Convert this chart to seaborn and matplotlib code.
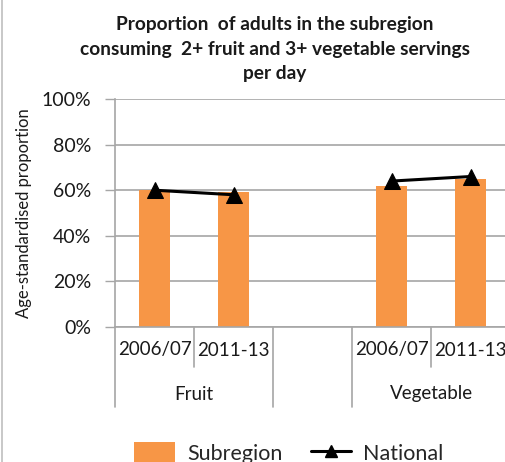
import matplotlib
matplotlib.use("Agg")
import matplotlib.pyplot as plt
import matplotlib.transforms as mtransforms
from matplotlib.lines import Line2D
from matplotlib.patches import Patch
import numpy as np
import pandas as pd
import seaborn as sns

# Data
groups = ["Fruit", "Fruit", "", "Vegetable", "Vegetable"]
periods = ["2006/07", "2011-13", "", "2006/07", "2011-13"]
subregion = [60, 59, np.nan, 62, 65]
national = [60, 58, np.nan, 64, 66]

slots = [f"{g}|{p}" if g else "blank" for g, p in zip(groups, periods)]
df = pd.DataFrame({
    "slot": slots,
    "pos": np.arange(len(slots)),
    "group": groups,
    "period": periods,
    "Subregion": subregion,
    "National": national,
})

sns.set_theme(style="white")
plt.rcParams["font.family"] = ["Lato", "DejaVu Sans"]

ORANGE = "#F79646"
GRID = "#A6A6A6"
TXT = "#1a1a1a"

fig = plt.figure(figsize=(5.06, 4.62), dpi=100)
ax = fig.add_axes([115 / 506, 1 - 327 / 462, 395 / 506, 228 / 462])

sns.barplot(data=df, x="slot", y="Subregion", order=slots, color=ORANGE,
            width=0.39, saturation=1, ax=ax, edgecolor="none")

line_df = df.dropna(subset=["National"])
sns.lineplot(data=line_df, x="pos", y="National", units="group", estimator=None,
             color="black", linewidth=2.2, marker="^", markersize=12,
             markeredgecolor="black", ax=ax, legend=False, zorder=5)

ax.set_xlim(-0.5, len(slots) - 0.5)
ax.set_ylim(0, 100)
ax.set_yticks(np.arange(0, 101, 20))
ax.set_yticklabels([f"{v}%" for v in range(0, 101, 20)], fontsize=14, color=TXT)
ax.yaxis.grid(True, color=GRID, linewidth=1.2)
ax.set_axisbelow(True)
ax.tick_params(axis="y", length=7, width=1, color=GRID, pad=10, left=True)
ax.tick_params(axis="x", length=0, labelbottom=False)
ax.set_xlabel("")
ax.set_ylabel("Age-standardised proportion", fontsize=12, color=TXT, labelpad=7)

for s in ["top", "right"]:
    ax.spines[s].set_visible(False)
for s in ["left", "bottom"]:
    ax.spines[s].set_color(GRID)
    ax.spines[s].set_linewidth(1.2)

# Two-level category axis: period labels, group labels and divider lines
trans = mtransforms.blended_transform_factory(ax.transData, ax.transAxes)
px = 1 / 228
for i, p in enumerate(periods):
    if p:
        ax.text(i, -23 * px, p, transform=trans, ha="center", va="center",
                fontsize=13.5, color=TXT)
for g in ["Fruit", "Vegetable"]:
    idx = [i for i, gg in enumerate(groups) if gg == g]
    ax.text(np.mean(idx), -67 * px, g, transform=trans, ha="center",
            va="center", fontsize=13.5, color=TXT)
for k in range(len(slots) + 1):
    x = k - 0.5
    left_g = groups[k - 1] if k > 0 else None
    right_g = groups[k] if k < len(slots) else None
    depth = 80 if left_g != right_g else 40
    ax.plot([x, x], [0, -depth * px], transform=trans, color=GRID,
            linewidth=1.2, clip_on=False)

fig.text(275 / 506, 1 - 49 / 462,
         "Proportion  of adults in the subregion\n"
         "consuming  2+ fruit and 3+ vegetable servings\nper day",
         ha="center", va="center", fontsize=13.8, fontweight="bold",
         color=TXT, linespacing=1.55)

handles = [Patch(facecolor=ORANGE, edgecolor="none", label="Subregion"),
           Line2D([0], [0], color="black", linewidth=2.2, marker="^",
                  markersize=9, label="National")]
fig.legend(handles=handles, loc="center", bbox_to_anchor=(289 / 506, 1 - 453 / 462),
           ncol=2, frameon=False, fontsize=15.5, handlelength=1.9,
           handleheight=1.0, columnspacing=1.3, handletextpad=0.55,
           borderpad=0, borderaxespad=0)

# Chart-area border on the left edge
fig.add_artist(Line2D([2.5 / 506, 2.5 / 506], [0, 1], transform=fig.transFigure,
                      color="#BFBFBF", linewidth=1.2))

fig.savefig("out.png", dpi=100)
